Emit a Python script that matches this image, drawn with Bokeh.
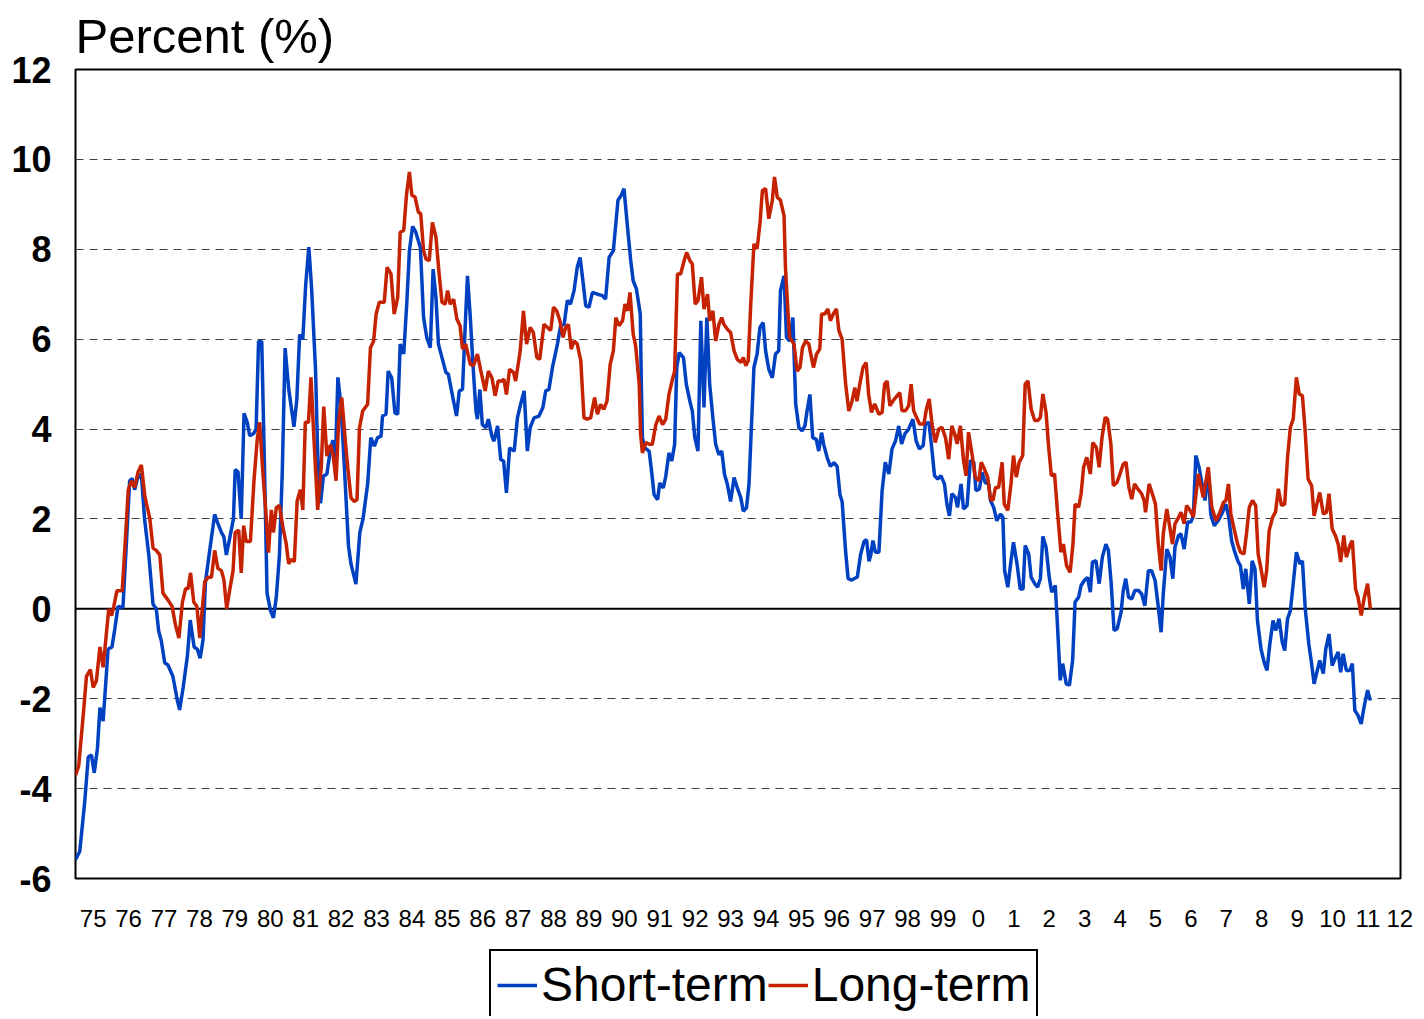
from bokeh.plotting import figure
from bokeh.layouts import column
from bokeh.models import Range1d, FixedTicker, Span, Legend, LegendItem
from bokeh.embed import file_html
from bokeh.resources import INLINE

# ---------------- data ----------------
short_years = [
    1975.00, 1975.12, 1975.26, 1975.36, 1975.45, 1975.53, 1975.62, 1975.69, 1975.78, 1975.92,
    1976.03, 1976.11, 1976.20, 1976.34, 1976.44, 1976.53, 1976.60, 1976.67, 1976.75, 1976.86,
    1976.95, 1977.07, 1977.19, 1977.28, 1977.35, 1977.42, 1977.52, 1977.61, 1977.75, 1977.88,
    1977.94, 1978.04, 1978.16, 1978.24, 1978.35, 1978.44, 1978.52, 1978.60, 1978.67, 1978.79,
    1978.93, 1979.02, 1979.12, 1979.19, 1979.26, 1979.35, 1979.46, 1979.51, 1979.59, 1979.68,
    1979.76, 1979.85, 1979.92, 1980.03, 1980.10, 1980.17, 1980.26, 1980.34, 1980.41, 1980.51,
    1980.59, 1980.67, 1980.76, 1980.84, 1980.92, 1981.02, 1981.09, 1981.17, 1981.25, 1981.33,
    1981.42, 1981.50, 1981.59, 1981.67, 1981.78, 1981.84, 1981.92, 1982.00, 1982.10, 1982.20,
    1982.27, 1982.34, 1982.41, 1982.50, 1982.59, 1982.71, 1982.78, 1982.92, 1983.03, 1983.12,
    1983.25, 1983.34, 1983.44, 1983.53, 1983.63, 1983.67, 1983.77, 1983.83, 1983.93, 1984.02,
    1984.10, 1984.17, 1984.27, 1984.36, 1984.43, 1984.52, 1984.61, 1984.74, 1984.83, 1984.92,
    1985.02, 1985.10, 1985.18, 1985.25, 1985.35, 1985.46, 1985.53, 1985.62, 1985.76, 1985.84,
    1985.93, 1986.00, 1986.07, 1986.15, 1986.23, 1986.31, 1986.35, 1986.42, 1986.49, 1986.59,
    1986.66, 1986.76, 1986.82, 1986.92, 1987.01, 1987.09, 1987.17, 1987.26, 1987.39, 1987.48,
    1987.57, 1987.67, 1987.76, 1987.84, 1987.95, 1988.09, 1988.20, 1988.28, 1988.37, 1988.47,
    1988.61, 1988.70, 1988.80, 1988.89, 1988.98, 1989.08, 1989.17, 1989.25, 1989.33, 1989.41,
    1989.50, 1989.60, 1989.74, 1989.88, 1989.97, 1990.07, 1990.19, 1990.32, 1990.41, 1990.49,
    1990.59, 1990.68, 1990.75, 1990.84, 1990.95, 1990.98, 1991.01, 1991.08, 1991.20, 1991.27,
    1991.34, 1991.44, 1991.50, 1991.60, 1991.67, 1991.76, 1991.84, 1991.92, 1991.98, 1992.05,
    1992.17, 1992.25, 1992.35, 1992.42, 1992.49, 1992.58, 1992.66, 1992.75, 1992.83, 1992.91,
    1993.00, 1993.08, 1993.17, 1993.25, 1993.33, 1993.41, 1993.50, 1993.60, 1993.69, 1993.79,
    1993.86, 1993.95, 1994.02, 1994.08, 1994.16, 1994.25, 1994.33, 1994.42, 1994.49, 1994.58,
    1994.68, 1994.77, 1994.86, 1994.91, 1995.01, 1995.08, 1995.17, 1995.26, 1995.34, 1995.43,
    1995.52, 1995.60, 1995.66, 1995.74, 1995.82, 1995.92, 1995.99, 1996.07, 1996.13, 1996.23,
    1996.32, 1996.42, 1996.51, 1996.59, 1996.65, 1996.75, 1996.82, 1996.92, 1997.08, 1997.17,
    1997.27, 1997.34, 1997.41, 1997.46, 1997.52, 1997.59, 1997.69, 1997.78, 1997.87, 1997.97,
    1998.06, 1998.16, 1998.25, 1998.33, 1998.42, 1998.53, 1998.65, 1998.74, 1998.83, 1998.94,
    1999.00, 1999.10, 1999.17, 1999.26, 1999.35, 1999.44, 1999.54, 1999.61, 1999.68, 1999.75,
    1999.85, 1999.91, 2000.01, 2000.08, 2000.18, 2000.27, 2000.37, 2000.43, 2000.53, 2000.60,
    2000.69, 2000.79, 2000.84, 2000.93, 2001.02, 2001.12, 2001.19, 2001.24, 2001.33, 2001.42,
    2001.49, 2001.59, 2001.68, 2001.76, 2001.82, 2001.92, 2001.99, 2002.09, 2002.17, 2002.25,
    2002.32, 2002.41, 2002.50, 2002.57, 2002.67, 2002.73, 2002.81, 2002.88, 2002.98, 2003.07,
    2003.16, 2003.23, 2003.33, 2003.40, 2003.49, 2003.58, 2003.66, 2003.72, 2003.82, 2003.91,
    2004.00, 2004.10, 2004.17, 2004.25, 2004.33, 2004.42, 2004.53, 2004.59, 2004.66, 2004.74,
    2004.83, 2004.92, 2005.02, 2005.11, 2005.20, 2005.30, 2005.39, 2005.49, 2005.58, 2005.66,
    2005.72, 2005.82, 2005.91, 2005.99, 2006.05, 2006.15, 2006.22, 2006.31, 2006.41, 2006.50,
    2006.57, 2006.64, 2006.73, 2006.80, 2006.90, 2006.99, 2007.06, 2007.16, 2007.27, 2007.37,
    2007.49, 2007.57, 2007.65, 2007.74, 2007.84, 2007.90, 2007.98, 2008.05, 2008.15, 2008.23,
    2008.31, 2008.38, 2008.48, 2008.57, 2008.65, 2008.73, 2008.82, 2008.90, 2008.99, 2009.08,
    2009.15, 2009.23, 2009.31, 2009.39, 2009.48, 2009.58, 2009.65, 2009.73, 2009.83, 2009.91,
    2009.98, 2010.07, 2010.14, 2010.24, 2010.31, 2010.40, 2010.49, 2010.57, 2010.66, 2010.73,
    2010.80, 2010.89, 2010.99, 2011.06, 2011.13, 2011.22, 2011.31, 2011.39, 2011.49, 2011.57,
]
short_term = [
    -5.58, -5.40, -4.30, -3.30, -3.25, -3.65, -3.10, -2.20, -2.50, -0.90,
    -0.85, -0.45, 0.05, 0.03, 1.50, 2.85, 2.90, 2.65, 2.90, 3.00,
    2.00, 1.20, 0.10, 0.00, -0.50, -0.70, -1.20, -1.25, -1.50, -2.05,
    -2.25, -1.75, -1.05, -0.25, -0.85, -0.90, -1.10, -0.70, 0.60, 1.30,
    2.10, 1.90, 1.70, 1.60, 1.20, 1.55, 2.00, 3.10, 3.05, 2.00,
    4.35, 4.15, 3.85, 3.90, 4.00, 5.95, 5.95, 3.05, 0.35, -0.05,
    -0.20, 0.25, 1.20, 3.05, 5.80, 4.90, 4.50, 4.05, 4.65, 6.10,
    6.00, 7.20, 8.05, 7.10, 5.30, 3.45, 2.35, 2.95, 3.00, 3.55,
    3.75, 3.30, 5.15, 4.50, 3.20, 1.40, 1.00, 0.55, 1.70, 2.00,
    2.77, 3.81, 3.62, 3.81, 3.84, 4.29, 4.33, 5.29, 5.14, 4.36,
    4.33, 5.89, 5.67, 6.86, 7.97, 8.51, 8.38, 8.04, 6.48, 6.04,
    5.81, 7.56, 6.93, 5.89, 5.59, 5.26, 5.22, 4.85, 4.29, 4.85,
    4.88, 6.19, 7.41, 6.48, 5.37, 4.40, 4.22, 4.88, 4.10, 4.03,
    4.22, 3.84, 3.73, 4.07, 3.32, 3.29, 2.58, 3.58, 3.51, 4.25,
    4.55, 4.85, 3.51, 4.03, 4.25, 4.29, 4.48, 4.85, 4.88, 5.37,
    5.89, 6.30, 6.33, 6.86, 6.78, 7.08, 7.60, 7.82, 7.30, 6.74,
    6.71, 7.04, 7.00, 6.97, 6.89, 7.82, 7.97, 9.09, 9.20, 9.35,
    8.49, 7.75, 7.30, 7.12, 6.56, 5.00, 3.81, 3.58, 3.51, 3.06,
    2.54, 2.43, 2.80, 2.69, 2.95, 3.47, 3.29, 3.66, 5.37, 5.70,
    5.59, 5.00, 4.62, 4.40, 3.81, 3.51, 6.41, 4.48, 6.48, 5.00,
    4.25, 3.66, 3.43, 3.51, 2.99, 2.77, 2.39, 2.92, 2.69, 2.47,
    2.17, 2.25, 2.77, 3.88, 5.37, 5.67, 6.26, 6.37, 5.74, 5.33,
    5.14, 5.67, 5.74, 7.08, 7.41, 6.04, 5.96, 6.48, 4.55, 4.03,
    3.96, 4.07, 4.40, 4.77, 3.81, 3.77, 3.51, 3.92, 3.66, 3.36,
    3.17, 3.25, 3.17, 2.54, 2.39, 1.27, 0.67, 0.64, 0.71, 1.20,
    1.50, 1.54, 1.06, 1.20, 1.52, 1.26, 1.26, 2.63, 3.26, 3.00,
    3.56, 3.74, 4.07, 3.67, 3.89, 4.00, 4.22, 3.74, 3.56, 3.63,
    4.11, 4.15, 3.67, 2.96, 2.89, 2.96, 2.78, 2.33, 2.07, 2.56,
    2.48, 2.26, 2.78, 2.22, 2.30, 3.30, 3.26, 2.63, 2.67, 3.04,
    2.81, 2.78, 2.41, 2.26, 1.96, 2.11, 2.04, 0.85, 0.48, 1.07,
    1.48, 1.00, 0.44, 0.44, 1.41, 1.22, 0.70, 0.56, 0.48, 0.67,
    1.61, 1.37, 0.70, 0.37, 0.52, -0.33, -1.59, -1.22, -1.67, -1.70,
    -1.15, 0.15, 0.26, 0.52, 0.63, 0.70, 0.37, 1.04, 1.07, 0.56,
    1.15, 1.44, 1.30, 0.56, -0.48, -0.44, -0.07, 0.41, 0.67, 0.26,
    0.22, 0.41, 0.41, 0.33, 0.07, 0.85, 0.85, 0.63, 0.04, -0.52,
    0.33, 1.33, 1.15, 0.67, 1.37, 1.63, 1.67, 1.33, 1.93, 1.93,
    2.07, 3.41, 3.15, 2.85, 2.41, 3.11, 2.11, 1.85, 1.96, 2.11,
    2.33, 2.04, 1.52, 1.26, 1.04, 0.96, 0.44, 0.89, 0.11, 1.07,
    0.89, -0.26, -0.89, -1.19, -1.37, -0.78, -0.26, -0.48, -0.22, -0.74,
    -0.93, -0.22, -0.04, 0.56, 1.26, 1.00, 1.07, 0.00, -0.78, -1.22,
    -1.67, -1.37, -1.15, -1.44, -0.89, -0.56, -1.26, -1.11, -0.96, -1.41,
    -1.00, -1.37, -1.37, -1.22, -2.26, -2.37, -2.56, -2.19, -1.81, -2.04,
]

long_years = [
    1975.00, 1975.09, 1975.22, 1975.31, 1975.42, 1975.50, 1975.59, 1975.69, 1975.78, 1975.86,
    1975.94, 1976.02, 1976.08, 1976.17, 1976.32, 1976.39, 1976.49, 1976.58, 1976.67, 1976.77,
    1976.86, 1976.96, 1977.10, 1977.19, 1977.28, 1977.38, 1977.47, 1977.61, 1977.73, 1977.82,
    1977.92, 1978.02, 1978.11, 1978.18, 1978.25, 1978.34, 1978.43, 1978.51, 1978.58, 1978.65,
    1978.74, 1978.84, 1978.93, 1979.02, 1979.12, 1979.19, 1979.27, 1979.35, 1979.45, 1979.51,
    1979.61, 1979.68, 1979.75, 1979.82, 1979.94, 1980.04, 1980.13, 1980.20, 1980.29, 1980.39,
    1980.45, 1980.53, 1980.59, 1980.67, 1980.76, 1980.86, 1980.95, 1981.02, 1981.09, 1981.18,
    1981.26, 1981.35, 1981.42, 1981.49, 1981.58, 1981.65, 1981.73, 1981.84, 1981.94, 1982.01,
    1982.10, 1982.20, 1982.27, 1982.36, 1982.43, 1982.52, 1982.64, 1982.69, 1982.78, 1982.87,
    1982.95, 1983.02, 1983.11, 1983.25, 1983.33, 1983.42, 1983.49, 1983.58, 1983.72, 1983.80,
    1983.91, 1984.00, 1984.10, 1984.17, 1984.27, 1984.35, 1984.43, 1984.50, 1984.59, 1984.68,
    1984.75, 1984.83, 1984.90, 1984.99, 1985.08, 1985.18, 1985.27, 1985.35, 1985.44, 1985.51,
    1985.58, 1985.68, 1985.77, 1985.86, 1985.93, 1986.02, 1986.15, 1986.24, 1986.35, 1986.45,
    1986.57, 1986.66, 1986.76, 1986.85, 1986.94, 1987.04, 1987.10, 1987.17, 1987.26, 1987.37,
    1987.43, 1987.56, 1987.65, 1987.74, 1987.84, 1987.93, 1988.03, 1988.11, 1988.23, 1988.33,
    1988.42, 1988.50, 1988.59, 1988.68, 1988.77, 1988.84, 1988.92, 1989.00, 1989.08, 1989.17,
    1989.27, 1989.36, 1989.45, 1989.55, 1989.66, 1989.74, 1989.83, 1989.92, 1990.01, 1990.10,
    1990.19, 1990.26, 1990.35, 1990.45, 1990.52, 1990.59, 1990.66, 1990.75, 1990.82, 1990.92,
    1990.96, 1991.01, 1991.11, 1991.20, 1991.29, 1991.39, 1991.48, 1991.58, 1991.67, 1991.76,
    1991.86, 1991.92, 1992.00, 1992.09, 1992.19, 1992.26, 1992.35, 1992.42, 1992.50, 1992.58,
    1992.68, 1992.75, 1992.85, 1992.91, 1993.00, 1993.08, 1993.17, 1993.25, 1993.31, 1993.41,
    1993.50, 1993.60, 1993.69, 1993.79, 1993.86, 1993.93, 1994.00, 1994.07, 1994.16, 1994.25,
    1994.33, 1994.40, 1994.49, 1994.58, 1994.68, 1994.74, 1994.82, 1994.91, 1995.01, 1995.05,
    1995.12, 1995.17, 1995.29, 1995.38, 1995.46, 1995.53, 1995.62, 1995.71, 1995.84, 1995.93,
    1996.02, 1996.07, 1996.16, 1996.25, 1996.32, 1996.40, 1996.49, 1996.56, 1996.65, 1996.75,
    1996.84, 1996.93, 1997.01, 1997.07, 1997.15, 1997.24, 1997.33, 1997.40, 1997.48, 1997.57,
    1997.69, 1997.78, 1997.85, 1997.92, 1998.00, 1998.09, 1998.20, 1998.28, 1998.34, 1998.44,
    1998.53, 1998.60, 1998.67, 1998.75, 1998.84, 1998.96, 1999.03, 1999.11, 1999.19, 1999.28,
    1999.38, 1999.47, 1999.57, 1999.66, 1999.75, 1999.83, 1999.90, 1999.99, 2000.08, 2000.15,
    2000.22, 2000.32, 2000.41, 2000.51, 2000.58, 2000.67, 2000.76, 2000.84, 2000.91, 2000.98,
    2001.07, 2001.17, 2001.23, 2001.33, 2001.42, 2001.49, 2001.57, 2001.65, 2001.75, 2001.82,
    2001.90, 2001.99, 2002.09, 2002.18, 2002.25, 2002.32, 2002.41, 2002.48, 2002.56, 2002.65,
    2002.73, 2002.83, 2002.90, 2002.99, 2003.09, 2003.17, 2003.23, 2003.33, 2003.40, 2003.47,
    2003.56, 2003.66, 2003.73, 2003.83, 2003.91, 2003.99, 2004.08, 2004.15, 2004.24, 2004.31,
    2004.41, 2004.48, 2004.59, 2004.67, 2004.75, 2004.83, 2004.91, 2005.00, 2005.11, 2005.18,
    2005.22, 2005.32, 2005.41, 2005.50, 2005.58, 2005.66, 2005.72, 2005.82, 2005.89, 2005.98,
    2006.05, 2006.13, 2006.22, 2006.31, 2006.38, 2006.48, 2006.57, 2006.71, 2006.85, 2006.99,
    2007.09, 2007.21, 2007.32, 2007.42, 2007.49, 2007.56, 2007.63, 2007.72, 2007.82, 2007.90,
    2008.00, 2008.07, 2008.15, 2008.24, 2008.33, 2008.40, 2008.49, 2008.57, 2008.64, 2008.71,
    2008.81, 2008.89, 2008.97, 2009.06, 2009.15, 2009.23, 2009.31, 2009.39, 2009.48, 2009.56,
    2009.65, 2009.72, 2009.81, 2009.91, 2009.98, 2010.07, 2010.14, 2010.24, 2010.33, 2010.40,
    2010.49, 2010.58, 2010.66, 2010.73, 2010.82, 2010.89, 2010.99, 2011.06, 2011.15, 2011.22,
    2011.31, 2011.39, 2011.49, 2011.57,
]
long_term = [
    -3.70, -3.50, -2.35, -1.50, -1.35, -1.75, -1.60, -0.85, -1.30, -0.65,
    0.00, -0.15, 0.05, 0.40, 0.40, 1.30, 2.65, 2.85, 2.70, 3.05,
    3.20, 2.50, 2.00, 1.35, 1.30, 1.20, 0.35, 0.20, 0.05, -0.35,
    -0.65, 0.15, 0.45, 0.45, 0.80, 0.15, 0.05, -0.65, 0.00, 0.60,
    0.70, 0.70, 1.30, 0.90, 0.85, 0.65, 0.00, 0.40, 0.85, 1.70,
    1.75, 0.80, 1.85, 1.50, 1.50, 2.85, 3.75, 4.15, 3.05, 2.00,
    1.25, 2.20, 1.70, 2.25, 2.30, 1.80, 1.45, 1.00, 1.10, 1.05,
    2.40, 2.65, 2.20, 4.15, 4.15, 5.15, 3.85, 2.20, 3.15, 4.50,
    3.40, 3.65, 3.45, 2.85, 4.15, 4.70, 3.55, 3.14, 2.47, 2.39,
    2.43, 4.03, 4.40, 4.55, 5.81, 5.96, 6.56, 6.82, 6.82, 7.60,
    7.45, 6.56, 6.93, 8.38, 8.42, 9.23, 9.72, 9.20, 9.16, 8.83,
    8.79, 7.97, 7.78, 7.75, 8.60, 8.27, 7.45, 6.82, 6.78, 7.08,
    6.78, 6.89, 6.45, 6.30, 5.78, 5.89, 5.44, 5.41, 5.67, 5.29,
    4.85, 5.29, 5.14, 4.74, 5.07, 5.07, 5.11, 4.77, 5.33, 5.26,
    5.07, 5.74, 6.63, 5.89, 6.26, 6.15, 5.59, 5.55, 6.33, 6.26,
    6.19, 6.71, 6.63, 6.41, 6.04, 6.26, 6.33, 5.78, 5.96, 5.89,
    5.52, 4.25, 4.22, 4.25, 4.70, 4.33, 4.55, 4.44, 4.62, 5.44,
    5.74, 6.48, 6.30, 6.41, 6.78, 6.63, 7.04, 6.11, 5.85, 5.00,
    3.88, 3.47, 3.70, 3.66, 3.66, 4.10, 4.29, 4.10, 4.22, 4.77,
    5.11, 5.29, 7.45, 7.45, 7.75, 7.93, 7.75, 7.67, 6.78, 6.86,
    7.38, 6.67, 7.00, 6.41, 6.63, 5.96, 6.33, 6.48, 6.33, 6.22,
    6.15, 5.74, 5.55, 5.48, 5.59, 5.41, 5.52, 6.78, 8.12, 8.01,
    8.57, 9.31, 9.35, 8.68, 9.09, 9.61, 9.16, 9.09, 8.75, 7.60,
    6.63, 6.04, 5.89, 5.29, 5.37, 5.81, 5.96, 5.89, 5.37, 5.67,
    5.78, 6.56, 6.56, 6.67, 6.41, 6.56, 6.67, 6.19, 6.00, 5.00,
    4.40, 4.62, 4.92, 4.62, 5.00, 5.37, 5.48, 4.77, 4.37, 4.56,
    4.33, 4.37, 5.00, 5.07, 4.52, 4.63, 4.74, 4.81, 4.41, 4.41,
    4.52, 5.00, 4.41, 4.26, 4.11, 4.11, 4.44, 4.67, 4.11, 3.70,
    4.00, 4.04, 3.81, 3.33, 4.07, 3.89, 3.67, 4.07, 3.30, 2.96,
    3.93, 3.44, 2.93, 2.85, 3.26, 3.11, 2.93, 2.44, 2.41, 2.70,
    2.70, 3.26, 2.33, 2.19, 2.78, 3.41, 2.93, 3.26, 3.41, 5.00,
    5.07, 4.44, 4.19, 4.19, 4.26, 4.78, 4.37, 3.63, 2.96, 3.00,
    2.19, 1.26, 1.44, 0.96, 0.81, 1.44, 2.33, 2.26, 2.56, 3.15,
    3.37, 3.00, 3.70, 3.59, 3.15, 3.81, 4.26, 4.22, 3.67, 2.74,
    2.81, 2.96, 3.22, 3.26, 2.70, 2.44, 2.78, 2.67, 2.56, 2.41,
    2.15, 2.78, 2.56, 2.33, 1.44, 0.85, 1.67, 2.22, 1.89, 1.44,
    1.89, 2.00, 2.15, 1.89, 2.30, 2.19, 2.04, 3.00, 2.48, 3.15,
    2.26, 1.96, 2.15, 2.37, 2.41, 2.78, 2.11, 1.78, 1.44, 1.26,
    1.22, 1.67, 2.26, 2.41, 2.30, 1.22, 0.85, 0.48, 0.85, 1.74,
    2.04, 2.15, 2.67, 2.30, 2.33, 3.37, 4.04, 4.22, 5.15, 4.78,
    4.74, 4.04, 2.89, 2.74, 2.07, 2.37, 2.59, 2.11, 2.15, 2.56,
    1.78, 1.63, 1.44, 1.04, 1.63, 1.15, 1.41, 1.52, 0.44, 0.26,
    -0.15, 0.22, 0.56, 0.00,
]

year_labels = ["75", "76", "77", "78", "79", "80", "81", "82", "83", "84",
               "85", "86", "87", "88", "89", "90", "91", "92", "93", "94",
               "95", "96", "97", "98", "99", "0", "1", "2", "3", "4",
               "5", "6", "7", "8", "9", "10", "11", "12"]
y_ticks = [-6, -4, -2, 0, 2, 4, 6, 8, 10, 12]
series_names = ["Short-term", "Long-term"]

BLUE = "#0041C2"
RED = "#C42200"
FONT = "Liberation Sans"
LW = 3.5

# ---------------- main chart ----------------
x_start, x_end = 1975.0, 2012.42
p = figure(width=1416, height=948, output_backend="svg", toolbar_location=None,
           x_range=Range1d(x_start, x_end), y_range=Range1d(-6, 12),
           min_border_left=75, min_border_right=16, min_border_top=69,
           min_border_bottom=70)

p.title.text = "Percent (%)"
p.title.text_font = FONT
p.title.text_font_size = "49px"
p.title.text_font_style = "normal"
p.title.text_color = "black"
p.title.align = "left"
p.title.offset = 0
p.title.standoff = 13

# x axis: labels centred in each year
x_ticks = [1975 + i + 0.5 for i in range(len(year_labels) - 1)] + [2012.4]
p.xaxis.ticker = FixedTicker(ticks=x_ticks)
p.xaxis.major_label_overrides = {t: lab for t, lab in zip(x_ticks, year_labels)}
p.xaxis.major_label_text_font = FONT
p.xaxis.major_label_text_font_size = "24px"
p.xaxis.major_label_text_color = "black"
p.xaxis.major_label_standoff = 25
p.xaxis.major_tick_line_color = None
p.xaxis.minor_tick_line_color = None
p.xaxis.axis_line_color = None

p.yaxis.ticker = FixedTicker(ticks=y_ticks)
p.yaxis.major_label_overrides = {t: str(t) for t in y_ticks}
p.yaxis.major_label_text_font = FONT
p.yaxis.major_label_text_font_size = "36px"
p.yaxis.major_label_text_font_style = "bold"
p.yaxis.major_label_text_color = "black"
p.yaxis.major_label_standoff = 18
p.yaxis.major_tick_line_color = None
p.yaxis.minor_tick_line_color = None
p.yaxis.axis_line_color = None

p.xgrid.visible = False
p.ygrid.ticker = FixedTicker(ticks=y_ticks)
p.ygrid.grid_line_color = "#404040"
p.ygrid.grid_line_dash = "8 6"
p.ygrid.grid_line_width = 1

p.outline_line_color = "black"
p.outline_line_width = 2
p.background_fill_color = "white"
p.border_fill_color = "white"

p.add_layout(Span(location=0, dimension="width", line_color="black",
                  line_width=2, level="underlay"))

p.line(short_years, short_term, line_color=BLUE, line_width=LW)
p.line(long_years, long_term, line_color=RED, line_width=LW)

# ---------------- legend strip (key glyphs drawn outside its visible range) ----------------
lg = figure(width=1416, height=68, output_backend="svg", toolbar_location=None,
            x_axis_type=None, y_axis_type=None,
            x_range=Range1d(0, 1), y_range=Range1d(0, 1),
            min_border_left=0, min_border_right=0, min_border_top=0,
            min_border_bottom=0)
lg.outline_line_color = None
lg.xgrid.visible = False
lg.ygrid.visible = False
lg.background_fill_color = "white"
lg.border_fill_color = "white"
k1 = lg.line([5, 6], [5, 6], line_color=BLUE, line_width=LW)
k2 = lg.line([5, 6], [5, 6], line_color=RED, line_width=LW)

legend = Legend(items=[LegendItem(label=series_names[0], renderers=[k1]),
                       LegendItem(label=series_names[1], renderers=[k2])],
                orientation="horizontal", location=(414, -4),
                label_text_font=FONT, label_text_font_size="48px",
                label_text_color="black",
                glyph_width=40, glyph_height=40, label_standoff=4,
                spacing=-17, padding=6, margin=0,
                border_line_color="black", border_line_width=2,
                border_line_alpha=1.0,
                background_fill_color="white", background_fill_alpha=1)
lg.add_layout(legend)

layout = column(p, lg, spacing=0)
open("out.html", "w").write(file_html(layout, INLINE))
